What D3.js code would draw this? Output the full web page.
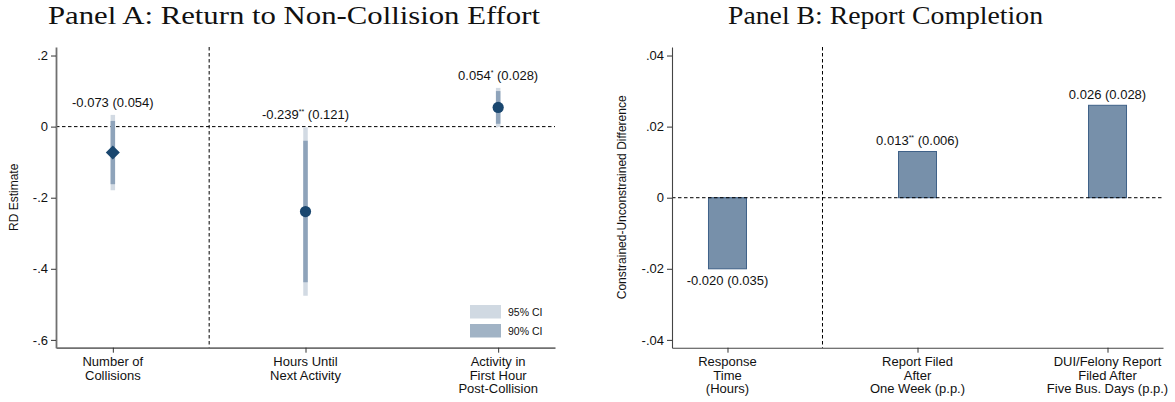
<!DOCTYPE html>
<html>
<head>
<meta charset="utf-8">
<script src="https://cdn.jsdelivr.net/npm/d3@7"></script>
<style>
  html, body { margin: 0; padding: 0; background: #fff; }
  svg { display: block; }
</style>
</head>
<body>
<svg id="chart" width="1175" height="402"></svg>
<script>
// ---- Panel A: RD estimates with confidence intervals ----
const categoriesA = [["Number of", "Collisions"], ["Hours Until", "Next Activity"], ["Activity in", "First Hour", "Post-Collision"]];
const estimatesA = [-0.073, -0.239, 0.054];
const stderrA = [0.054, 0.121, 0.028];
const starsA = ["", "**", "*"];
const ci95LowA = [-0.179, -0.476, -0.001];
const ci95HighA = [0.033, -0.002, 0.109];
const ci90LowA = [-0.162, -0.438, 0.008];
const ci90HighA = [0.016, -0.040, 0.100];
const markersA = ["diamond", "circle", "circle"];
const ticksA = [0.2, 0, -0.2, -0.4, -0.6];
const legendLabels = ["95% CI", "90% CI"];

// ---- Panel B: constrained vs. unconstrained differences ----
const categoriesB = [["Response", "Time", "(Hours)"], ["Report Filed", "After", "One Week (p.p.)"], ["DUI/Felony Report", "Filed After", "Five Bus. Days (p.p.)"]];
const estimatesB = [-0.020, 0.013, 0.026];
const stderrB = [0.035, 0.006, 0.028];
const starsB = ["", "**", ""];
const ticksB = [0.04, 0.02, 0, -0.02, -0.04];

const titles = ["Panel A: Return to Non-Collision Effort", "Panel B: Report Completion"];
const yTitles = ["RD Estimate", "Constrained-Unconstrained Difference"];

const colors = {
  marker: "#1a476f",
  ci95: "#d2dae3",
  ci90: "#8ea3ba",
  legend95: "#d0d9e2",
  legend90: "#a1b3c5",
  bar: "#7790aa",
  barStroke: "#3f6188"
};
const sans = "'Liberation Sans', Arial, Helvetica, sans-serif";
const serif = "'Liberation Serif', 'Times New Roman', serif";

const svg = d3.select("#chart");
const idx = [0, 1, 2];

// Stata-style tick labels: ".2", "-.4", ".04" with a plain hyphen
const fmtTick = d => d === 0 ? "0"
  : d3.format(Math.abs(d) < 0.1 ? ".2f" : ".1f")(d).replace("\u2212", "-").replace("0.", ".");
const fmtVal = d => d3.format(".3f")(d).replace("\u2212", "-");

// Value label with superscript significance stars
function valueLabel(g, x, y, est, se, stars) {
  const t = g.append("text")
    .attr("x", x).attr("y", y)
    .attr("text-anchor", "middle")
    .attr("font-family", sans).attr("font-size", 13)
    .attr("fill", "#111");
  t.append("tspan").text(fmtVal(est));
  if (stars) {
    t.append("tspan").attr("font-size", 7).attr("dy", -5).text(stars);
    t.append("tspan").attr("dy", 5).text(" (" + fmtVal(se) + ")");
  } else {
    t.append("tspan").text(" (" + fmtVal(se) + ")");
  }
}

function categoryLabels(g, xScale, y0, cats) {
  cats.forEach((lines, i) => {
    const t = g.append("text")
      .attr("text-anchor", "middle")
      .attr("font-family", sans).attr("font-size", 13)
      .attr("fill", "#111");
    lines.forEach((line, k) => {
      t.append("tspan").attr("x", xScale(i + 1)).attr("y", y0 + k * 13.5).text(line);
    });
  });
}

function styleAxis(g, lineColor, lineWidth) {
  g.selectAll("text").attr("font-family", sans).attr("font-size", 13).attr("fill", "#111");
  g.select(".domain").attr("stroke", lineColor).attr("stroke-width", lineWidth);
  g.selectAll(".tick line").attr("stroke", "#333");
}

// ================= Panel A =================
const xA = d3.scaleLinear().domain([0.705, 3.295]).range([56, 555]);
const yA = d3.scaleLinear().domain([-0.622, 0.224]).range([347.7, 47]);
const gA = svg.append("g");

// Dashed reference lines
gA.append("line")
  .attr("x1", xA.range()[0]).attr("x2", xA.range()[1])
  .attr("y1", yA(0)).attr("y2", yA(0))
  .attr("stroke", "#000").attr("stroke-width", 1).attr("stroke-dasharray", "3.5,2.5");
gA.append("line")
  .attr("x1", xA(1.5)).attr("x2", xA(1.5))
  .attr("y1", yA.range()[1]).attr("y2", yA.range()[0])
  .attr("stroke", "#000").attr("stroke-width", 1).attr("stroke-dasharray", "3.5,2.5");

// Confidence intervals
gA.selectAll("line.ci95").data(idx).join("line").attr("class", "ci95")
  .attr("x1", i => xA(i + 1)).attr("x2", i => xA(i + 1))
  .attr("y1", i => yA(ci95LowA[i])).attr("y2", i => yA(ci95HighA[i]))
  .attr("stroke", colors.ci95).attr("stroke-width", 4.5);
gA.selectAll("line.ci90").data(idx).join("line").attr("class", "ci90")
  .attr("x1", i => xA(i + 1)).attr("x2", i => xA(i + 1))
  .attr("y1", i => yA(ci90LowA[i])).attr("y2", i => yA(ci90HighA[i]))
  .attr("stroke", colors.ci90).attr("stroke-width", 4.5);

// Point estimates
gA.selectAll("path.pt").data(idx).join("path").attr("class", "pt")
  .attr("d", i => markersA[i] === "diamond"
    ? d3.symbol(d3.symbolSquare, 98)()
    : d3.symbol(d3.symbolCircle, Math.PI * 5.6 * 5.6)())
  .attr("transform", i => `translate(${xA(i + 1)},${yA(estimatesA[i])})` + (markersA[i] === "diamond" ? " rotate(45)" : ""))
  .attr("fill", colors.marker);

// Estimate labels above the 95% interval
idx.forEach(i => valueLabel(gA, xA(i + 1), yA(ci95HighA[i]) - 8, estimatesA[i], stderrA[i], starsA[i]));

// Axes
const axA = gA.append("g").attr("transform", `translate(${xA.range()[0]},0)`)
  .call(d3.axisLeft(yA).tickValues(ticksA).tickFormat(fmtTick).tickSize(5).tickSizeOuter(0).tickPadding(3));
styleAxis(axA, "#707070", 1.8);
const axAx = gA.append("g").attr("transform", `translate(0,${yA.range()[0]})`)
  .call(d3.axisBottom(xA).tickValues([1, 2, 3]).tickFormat("").tickSize(5).tickSizeOuter(0));
styleAxis(axAx, "#707070", 1.8);
categoryLabels(gA, xA, 366, categoriesA);

// Legend
legendLabels.forEach((lab, k) => {
  gA.append("rect")
    .attr("x", 470).attr("y", 305 + k * 19).attr("width", 31).attr("height", 13.5)
    .attr("fill", k === 0 ? colors.legend95 : colors.legend90);
  gA.append("text")
    .attr("x", 508).attr("y", 315.8 + k * 19)
    .attr("font-family", sans).attr("font-size", 10.5).attr("fill", "#111")
    .text(lab);
});

// Axis title
gA.append("text")
  .attr("transform", `translate(18,${(yA.range()[0] + yA.range()[1]) / 2}) rotate(-90)`)
  .attr("text-anchor", "middle")
  .attr("font-family", sans).attr("font-size", 12).attr("fill", "#111")
  .text(yTitles[0]);

// ================= Panel B =================
const xB = d3.scaleLinear().domain([0.708, 3.292]).range([672, 1163]);
const yB = d3.scaleLinear().domain([-0.0422, 0.0424]).range([347.7, 47]);
const gB = svg.append("g");
const barW = 38;

gB.append("line")
  .attr("x1", xB(1.5)).attr("x2", xB(1.5))
  .attr("y1", yB.range()[1]).attr("y2", yB.range()[0])
  .attr("stroke", "#000").attr("stroke-width", 1).attr("stroke-dasharray", "3.5,2.5");

gB.selectAll("rect.bar").data(idx).join("rect").attr("class", "bar")
  .attr("x", i => xB(i + 1) - barW / 2)
  .attr("width", barW)
  .attr("y", i => yB(Math.max(0, estimatesB[i])))
  .attr("height", i => Math.abs(yB(estimatesB[i]) - yB(0)))
  .attr("fill", colors.bar)
  .attr("stroke", colors.barStroke).attr("stroke-width", 1);

gB.append("line")
  .attr("x1", xB.range()[0]).attr("x2", xB.range()[1])
  .attr("y1", yB(0)).attr("y2", yB(0))
  .attr("stroke", "#000").attr("stroke-width", 1).attr("stroke-dasharray", "3.5,2.5");

idx.forEach(i => {
  const v = estimatesB[i];
  const y = v >= 0 ? yB(v) - 6.5 : yB(v) + 16;
  valueLabel(gB, xB(i + 1), y, v, stderrB[i], starsB[i]);
});

const axB = gB.append("g").attr("transform", `translate(${xB.range()[0]},0)`)
  .call(d3.axisLeft(yB).tickValues(ticksB).tickFormat(fmtTick).tickSize(5).tickSizeOuter(0).tickPadding(3));
styleAxis(axB, "#444", 1.1);
const axBx = gB.append("g").attr("transform", `translate(0,${yB.range()[0]})`)
  .call(d3.axisBottom(xB).tickValues([1, 2, 3]).tickFormat("").tickSize(5).tickSizeOuter(0));
styleAxis(axBx, "#444", 1.1);
categoryLabels(gB, xB, 366, categoriesB);

gB.append("text")
  .attr("transform", `translate(626,${(yB.range()[0] + yB.range()[1]) / 2}) rotate(-90)`)
  .attr("text-anchor", "middle")
  .attr("font-family", sans).attr("font-size", 12).attr("fill", "#111")
  .text(yTitles[1]);

// ================= Titles =================
[[294, 492], [885.5, 315]].forEach(([cx, w], k) => {
  svg.append("text")
    .attr("x", cx).attr("y", 24)
    .attr("text-anchor", "middle")
    .attr("font-family", serif).attr("font-size", 25).attr("fill", "#111")
    .attr("textLength", w).attr("lengthAdjust", "spacingAndGlyphs")
    .text(titles[k]);
});
</script>
</body>
</html>
